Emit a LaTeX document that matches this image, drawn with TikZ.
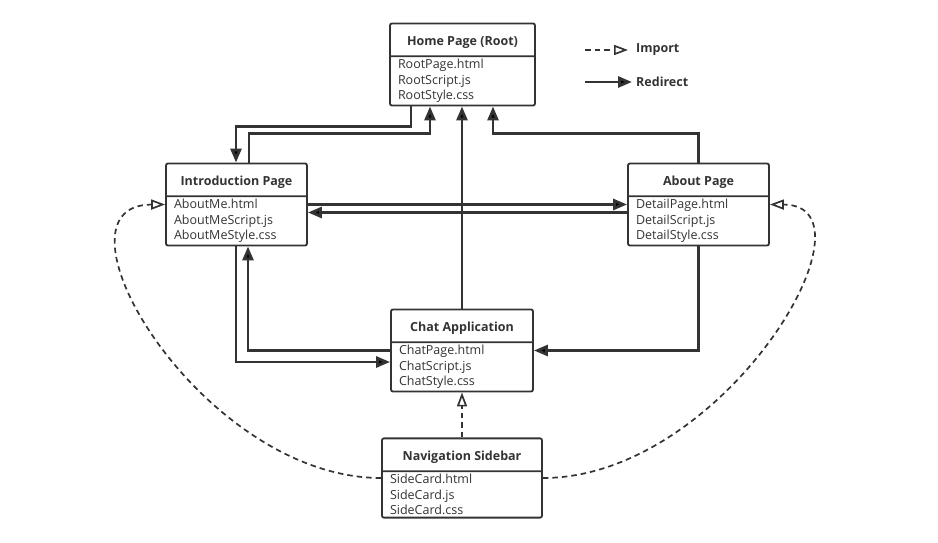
\documentclass[tikz,border=0pt]{standalone}
\usepackage{fontspec}
\setmainfont{Open Sans}
\usetikzlibrary{arrows.meta,shapes.multipart,positioning}
\definecolor{ink}{HTML}{333333}
\newcommand{\hd}[1]{\rule[-8pt]{0pt}{27pt}\textbf{#1}}

\begin{document}
\begin{tikzpicture}[x=1pt,y=-1pt,
  cls/.style={rectangle split, rectangle split parts=2, rectangle split part align={center,left},
    draw=ink, text=ink, rounded corners=2pt, line width=1.8pt, inner xsep=8pt, inner ysep=2pt,
    align=left, font=\fontsize{12.5}{15.5}\selectfont},
  redir/.style={draw=ink, line width=2.8pt, -{Triangle[length=14pt,width=11pt]}},
  imp/.style={draw=ink, line width=1.7pt, dash pattern=on 5.5pt off 4pt, -{Triangle[open,length=14pt,width=10pt]}},
  lbl/.style={right, text=ink, inner sep=0pt, font=\fontsize{12.5}{15}\selectfont\bfseries}]
  \useasboundingbox (0,0) rectangle (938,543);
  \node[cls, minimum width=145pt] (home) at (462.5,64.5)
    {\hd{Home Page (Root)}\nodepart{two}RootPage.html\\RootScript.js\\RootStyle.css};
  \node[cls, minimum width=141pt] (intro) at (236.5,204.5)
    {\hd{Introduction Page}\nodepart{two}AboutMe.html\\AboutMeScript.js\\AboutMeStyle.css};
  \node[cls, minimum width=141pt] (about) at (698.5,204.5)
    {\hd{About Page}\nodepart{two}DetailPage.html\\DetailScript.js\\DetailStyle.css};
  \node[cls, minimum width=142pt] (chat) at (462,350.5)
    {\hd{Chat Application}\nodepart{two}ChatPage.html\\ChatScript.js\\ChatStyle.css};
  \node[cls, minimum width=160pt] (nav) at (462,478)
    {\hd{Navigation Sidebar}\nodepart{two}SideCard.html\\SideCard.js\\SideCard.css};

  \coordinate (impS) at (585,50);
  \coordinate (impE) at (628,50);
  \node[lbl] (impT) at (636,50) {Import};
  \coordinate (redS) at (585,82);
  \coordinate (redE) at (632,82);
  \node[lbl] (redT) at (636,82) {Redirect};
  \draw[imp] (impS) -- (impE);
  \draw[redir] (redS) -- (redE);

  \draw[redir] ([xshift=-51.5pt]home.south) -- ++(0,20) -| ([xshift=-0.5pt]intro.north);
  \draw[redir] ([xshift=12.5pt]intro.north) -- ++(0,-29) -| ([xshift=-32.5pt]home.south);
  \draw[redir] (chat.north) -- (chat.north |- home.south);
  \draw[redir] (about.north) -- ++(0,-29) -| ([xshift=30.5pt]home.south);
  \draw[redir] (intro.east) -- (intro.east -| about.west);
  \draw[redir] ([yshift=-8pt]about.west) -- ([yshift=-8pt]intro.east);
  \draw[redir] ([xshift=-0.5pt]intro.south) |- ([yshift=-11.5pt]chat.west);
  \draw[redir] (chat.west) -| ([xshift=11.5pt]intro.south);
  \draw[redir] (about.south) |- (chat.east);

  \draw[imp] (nav.north) -- (chat.south);
  \draw[imp] (nav.west) .. controls (200,478) and (40,205) .. (intro.west);
  \draw[imp] (nav.east) .. controls (725,478) and (885,205) .. (about.east);
\end{tikzpicture}
\end{document}
